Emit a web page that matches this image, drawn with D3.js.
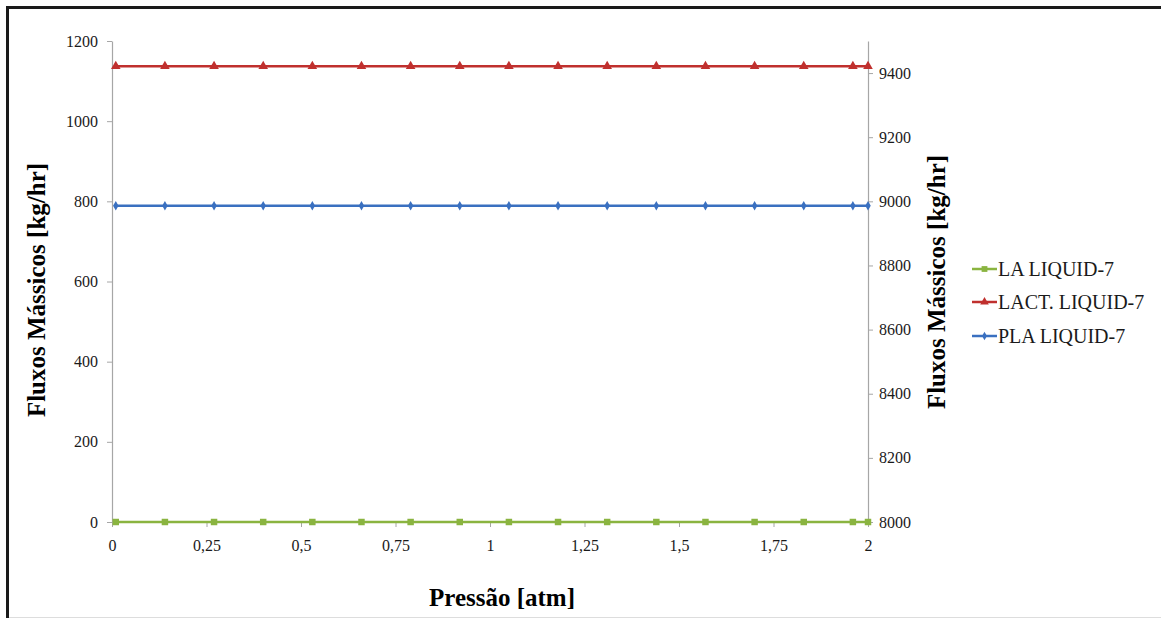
<!DOCTYPE html>
<html><head><meta charset="utf-8">
<script src="https://cdn.jsdelivr.net/npm/d3@7"></script>
<style>html,body{margin:0;padding:0;background:#fff;}
svg text{font-family:"Liberation Serif","Times New Roman",Times,"DejaVu Serif",serif;}</style>
</head><body>
<svg id="c" width="1161" height="618"></svg>
<script>
const pressures = [0.01, 0.14, 0.27, 0.40, 0.53, 0.66, 0.79, 0.92, 1.05, 1.18, 1.31, 1.44, 1.57, 1.70, 1.83, 1.96, 2.0];
const laLiquid   = [0, 0, 0, 0, 0, 0, 0, 0, 0, 0, 0, 0, 0, 0, 0, 0, 0];
const lactLiquid = [1137, 1137, 1137, 1137, 1137, 1137, 1137, 1137, 1137, 1137, 1137, 1137, 1137, 1137, 1137, 1137, 1137];
const plaLiquid  = [8986, 8986, 8986, 8986, 8986, 8986, 8986, 8986, 8986, 8986, 8986, 8986, 8986, 8986, 8986, 8986, 8986];
const xTicks = [0, 0.25, 0.5, 0.75, 1, 1.25, 1.5, 1.75, 2];
const leftTicks = [0, 200, 400, 600, 800, 1000, 1200];
const rightTicks = [8000, 8200, 8400, 8600, 8800, 9000, 9200, 9400];
const seriesNames = ["LA LIQUID-7", "LACT. LIQUID-7", "PLA LIQUID-7"];
const seriesColors = ["#8ab440", "#c0302e", "#3a70c0"];

const svg = d3.select("#c");

// frame
svg.append("line").attr("x1",7.5).attr("x2",7.5).attr("y1",7).attr("y2",618).attr("stroke","#1a1a1a").attr("stroke-width",3);
svg.append("line").attr("x1",6).attr("x2",1161).attr("y1",7.5).attr("y2",7.5).attr("stroke","#1a1a1a").attr("stroke-width",3);
svg.append("line").attr("x1",9).attr("x2",1161).attr("y1",617.5).attr("y2",617.5).attr("stroke","#ddd").attr("stroke-width",1);

const L = 112, R = 868, T = 41, B = 522;
const x = d3.scaleLinear().domain([0, 2]).range([L, R]);
const yL = d3.scaleLinear().domain([0, 1200]).range([B, T]);
const yR = d3.scaleLinear().domain([8000, 9500]).range([B, T]);

function styleAxis(g){
  g.attr("font-family", null);
  g.select(".domain").attr("stroke","#a6a6a6").attr("stroke-width",1.2);
  g.selectAll(".tick line").attr("stroke","#a6a6a6");
  g.selectAll(".tick text").attr("fill","#1a1a1a").style("font-size","16px");
}
const fmt = d => String(d).replace(".", ",");

svg.append("g").attr("transform",`translate(${L},0)`)
  .call(d3.axisLeft(yL).tickValues(leftTicks).tickFormat(fmt).tickSize(5).tickPadding(9).tickSizeOuter(0))
  .call(styleAxis);
svg.append("g").attr("transform",`translate(${R},0)`)
  .call(d3.axisRight(yR).tickValues(rightTicks).tickFormat(fmt).tickSize(5).tickPadding(6).tickSizeOuter(0))
  .call(styleAxis);
svg.append("g").attr("transform",`translate(0,${B})`)
  .call(d3.axisBottom(x).tickValues(xTicks).tickFormat(fmt).tickSize(5).tickPadding(13).tickSizeOuter(0))
  .call(styleAxis);

const series = [
  {vals: laLiquid, y: yL, sym: d3.symbolSquare, size: 42},
  {vals: lactLiquid, y: yL, sym: d3.symbolTriangle, size: 40},
  {vals: plaLiquid, y: yR, sym: d3.symbolDiamond, size: 26},
];
series.forEach((s, i) => {
  const pts = pressures.map((p, j) => [p, s.vals[j]]);
  svg.append("path").datum(pts)
    .attr("fill","none").attr("stroke",seriesColors[i]).attr("stroke-width",2.5)
    .attr("d", d3.line().x(d => x(d[0])).y(d => s.y(d[1])));
  svg.selectAll(null).data(pts).enter().append("path")
    .attr("transform", d => `translate(${x(d[0])},${s.y(d[1])})`)
    .attr("d", d3.symbol().type(s.sym).size(s.size))
    .attr("fill", seriesColors[i]);
});

// legend
const legY = [269, 302, 336];
seriesNames.forEach((n, i) => {
  const g = svg.append("g").attr("transform",`translate(972,${legY[i]})`);
  g.append("line").attr("x1",0).attr("x2",25).attr("stroke",seriesColors[i]).attr("stroke-width",2.5);
  g.append("path").attr("transform","translate(12.5,0)")
    .attr("d", d3.symbol().type(series[i].sym).size(series[i].size*0.8)).attr("fill",seriesColors[i]);
  g.append("text").attr("x",26).attr("y",7).text(n)
    .style("font-size","20px").attr("fill","#1a1a1a");
});

// titles
svg.append("text").attr("transform","translate(45,290) rotate(-90)").attr("text-anchor","middle")
  .style("font-size","25px").style("font-weight","bold").text("Fluxos Mássicos [kg/hr]");
svg.append("text").attr("transform","translate(945,282) rotate(-90)").attr("text-anchor","middle")
  .style("font-size","25px").style("font-weight","bold").text("Fluxos Mássicos [kg/hr]");
svg.append("text").attr("x",502).attr("y",606).attr("text-anchor","middle")
  .style("font-size","25px").style("font-weight","bold").text("Pressão [atm]");
</script>
</body></html>
